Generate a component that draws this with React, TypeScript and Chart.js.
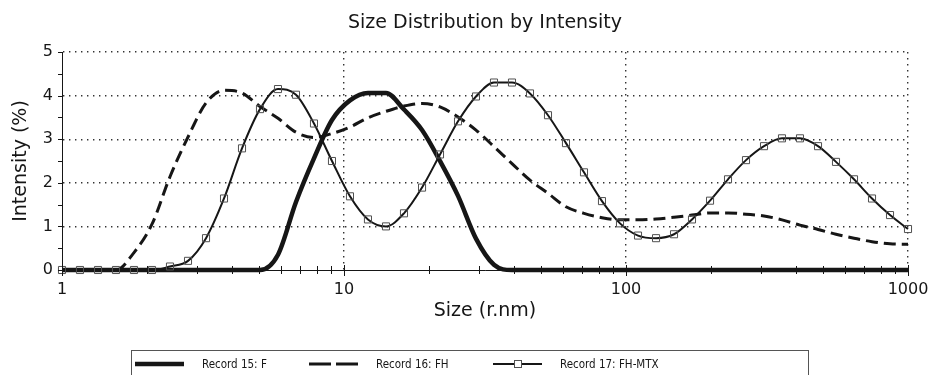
import React, { useEffect, useRef } from "react";
import { Chart, registerables } from "chart.js";

Chart.register(...registerables);

// Size bins (r.nm)
const sizeNm = [
  1.0, 1.158, 1.342, 1.554, 1.8, 2.085, 2.415, 2.798, 3.241, 3.754, 4.348, 5.036,
  5.833, 6.757, 7.826, 9.065, 10.5, 12.16, 14.09, 16.32, 18.91, 21.9, 25.37, 29.38,
  34.03, 39.42, 45.66, 52.89, 61.26, 70.96, 82.19, 95.22, 110.3, 127.8, 148.0, 171.4,
  198.6, 230.0, 266.4, 308.6, 357.4, 414.0, 479.6, 555.5, 643.5, 745.4, 863.4, 1000,
];

// Intensity (%)
const record15 = [
  0, 0, 0, 0, 0, 0, 0, 0, 0, 0, 0, 0,
  0.35, 1.56, 2.56, 3.44, 3.89, 4.06, 4.06, 3.68, 3.21, 2.5, 1.7, 0.72,
  0.12, 0, 0, 0, 0, 0, 0, 0, 0, 0, 0, 0,
  0, 0, 0, 0, 0, 0, 0, 0, 0, 0, 0, 0,
];

const record16 = [
  0, 0, 0, 0, 0.4, 1.05, 2.14, 3.05, 3.83, 4.12, 4.06, 3.75,
  3.48, 3.16, 3.04, 3.13, 3.28, 3.49, 3.64, 3.76, 3.82, 3.74, 3.51, 3.21,
  2.83, 2.44, 2.06, 1.76, 1.45, 1.3, 1.2, 1.15, 1.15, 1.17, 1.21, 1.26,
  1.31, 1.31, 1.28, 1.24, 1.15, 1.03, 0.93, 0.82, 0.73, 0.65, 0.6, 0.59,
];

const record17 = [
  0, 0, 0, 0, 0, 0, 0.08, 0.21, 0.73, 1.64, 2.79, 3.69,
  4.15, 4.02, 3.36, 2.5, 1.69, 1.16, 1.0, 1.3, 1.89, 2.65, 3.41, 3.98,
  4.3, 4.3, 4.05, 3.55, 2.91, 2.24, 1.58, 1.07, 0.79, 0.73, 0.82, 1.16,
  1.59, 2.08, 2.52, 2.84, 3.02, 3.02, 2.84, 2.48, 2.08, 1.64, 1.26, 0.94,
];

const seriesLabels = ["Record 15: F", "Record 16: FH", "Record 17: FH-MTX"];

const xTickValues = [
  1, 2, 3, 4, 5, 6, 7, 8, 9,
  10, 20, 30, 40, 50, 60, 70, 80, 90,
  100, 200, 300, 400, 500, 600, 700, 800, 900, 1000,
];
const xLabelValues = [1, 10, 100, 1000];
const yTickValues = [0, 0.5, 1, 1.5, 2, 2.5, 3, 3.5, 4, 4.5, 5];
const yLabelValues = [0, 1, 2, 3, 4, 5];

const INK = "#161616";
const AXIS_FONT = "'DejaVu Sans', sans-serif";

const tickMarksPlugin = {
  id: "tickMarks",
  afterDraw(chart: any) {
    const { ctx, chartArea } = chart;
    const x = chart.scales.x;
    const y = chart.scales.y;
    ctx.save();
    ctx.strokeStyle = INK;
    ctx.lineWidth = 1;
    ctx.beginPath();
    for (const v of xTickValues) {
      const px = Math.round(x.getPixelForValue(v)) + 0.5;
      const major = xLabelValues.includes(v);
      ctx.moveTo(px, chartArea.bottom - (major ? 5 : 4));
      ctx.lineTo(px, chartArea.bottom + (major ? 6 : 4));
    }
    for (const v of yTickValues) {
      const py = Math.round(y.getPixelForValue(v)) + 0.5;
      ctx.moveTo(chartArea.left - 4, py);
      ctx.lineTo(chartArea.left + 1, py);
    }
    ctx.stroke();
    ctx.restore();
  },
};

const legendSlots = [135, 309, 493];

const boxLegendPlugin = {
  id: "boxLegend",
  afterDraw(chart: any) {
    const { ctx } = chart;
    ctx.save();
    ctx.strokeStyle = "#555";
    ctx.lineWidth = 1;
    ctx.strokeRect(131.5, 350.5, 677, 40);
    const yy = 364;
    chart.data.datasets.forEach((ds: any, i: number) => {
      const sx = legendSlots[i];
      ctx.strokeStyle = ds.borderColor;
      ctx.lineWidth = ds.borderWidth;
      ctx.setLineDash(ds.borderDash && ds.borderDash.length ? [22, 5] : []);
      ctx.beginPath();
      ctx.moveTo(sx, yy);
      ctx.lineTo(sx + 49, yy);
      ctx.stroke();
      ctx.setLineDash([]);
      if (ds.pointRadius > 0) {
        ctx.strokeStyle = ds.pointBorderColor;
        ctx.lineWidth = 1;
        ctx.fillStyle = "#fff";
        ctx.fillRect(sx + 21.5, yy - 3.5, 7, 7);
        ctx.strokeRect(sx + 21.5, yy - 3.5, 7, 7);
      }
      ctx.fillStyle = INK;
      ctx.font = "11.5px 'Liberation Sans Narrow', 'DejaVu Sans Condensed', sans-serif";
      ctx.textBaseline = "middle";
      ctx.textAlign = "left";
      ctx.fillText(ds.label, sx + 67, yy + 1);
    });
    ctx.restore();
  },
};

export default function App() {
  const canvasRef = useRef<HTMLCanvasElement | null>(null);

  useEffect(() => {
    const canvas = canvasRef.current;
    if (!canvas) return;
    const toPoints = (vals: number[]) => sizeNm.map((s, i) => ({ x: s, y: vals[i] }));

    const chart = new Chart(canvas, {
      type: "line",
      data: {
        datasets: [
          {
            label: seriesLabels[0],
            data: toPoints(record15),
            borderColor: INK,
            borderWidth: 4.5,
            pointRadius: 0,
            cubicInterpolationMode: "monotone",
            fill: false,
            clip: false,
            order: 2,
          },
          {
            label: seriesLabels[1],
            data: toPoints(record16),
            borderColor: INK,
            borderWidth: 3,
            borderDash: [12, 6],
            pointRadius: 0,
            cubicInterpolationMode: "monotone",
            fill: false,
            clip: false,
            order: 1,
          },
          {
            label: seriesLabels[2],
            data: toPoints(record17),
            borderColor: INK,
            borderWidth: 2,
            pointRadius: 5,
            pointStyle: "rect",
            pointBorderColor: "#505050",
            pointBackgroundColor: "rgba(0,0,0,0)",
            pointBorderWidth: 1,
            cubicInterpolationMode: "monotone",
            fill: false,
            clip: false,
            order: 0,
          },
        ],
      },
      options: {
        animation: false,
        responsive: false,
        devicePixelRatio: 1,
        layout: { padding: { left: 0, right: 22, top: 0, bottom: 0 } },
        plugins: {
          legend: { display: false },
          tooltip: { enabled: false },
          title: {
            display: true,
            text: "Size Distribution by Intensity",
            color: INK,
            fullSize: false,
            font: { family: AXIS_FONT, size: 19, weight: "normal", lineHeight: 1.2 },
            padding: { top: 12, bottom: 17.2 },
          },
        },
        scales: {
          x: {
            type: "logarithmic",
            min: 1,
            max: 1000,
            afterBuildTicks: (scale: any) => {
              scale.ticks = xTickValues.map((v) => ({ value: v }));
            },
            afterFit: (scale: any) => {
              scale.height = 105;
              scale.paddingLeft = 0;
              scale.paddingRight = 0;
            },
            ticks: {
              autoSkip: false,
              maxRotation: 0,
              minRotation: 0,
              padding: 10,
              color: INK,
              font: { family: AXIS_FONT, size: 16 },
              callback: (value: any) => (xLabelValues.includes(Number(value)) ? String(value) : ""),
            },
            grid: {
              drawTicks: false,
              lineWidth: 1.4,
              color: (c: any) =>
                c.tick && xLabelValues.includes(c.tick.value) && c.tick.value !== 1 ? "#333" : "rgba(0,0,0,0)",
            },
            border: { display: true, color: INK, width: 1, dash: [1.4, 4.6] },
            title: {
              display: true,
              text: "Size (r.nm)",
              color: INK,
              font: { family: AXIS_FONT, size: 19, lineHeight: 1.2 },
              padding: { top: 0, bottom: 53 },
            },
          },
          y: {
            type: "linear",
            min: 0,
            max: 5,
            afterBuildTicks: (scale: any) => {
              scale.ticks = yTickValues.map((v) => ({ value: v }));
            },
            afterFit: (scale: any) => {
              scale.width = 62;
            },
            ticks: {
              autoSkip: false,
              padding: 9,
              color: INK,
              font: { family: AXIS_FONT, size: 16 },
              callback: (value: any) => (yLabelValues.includes(Number(value)) ? String(value) : ""),
            },
            grid: {
              drawTicks: false,
              lineWidth: 1.4,
              color: (c: any) =>
                c.tick && yLabelValues.includes(c.tick.value) && c.tick.value !== 0 ? "#333" : "rgba(0,0,0,0)",
            },
            border: { display: true, color: INK, width: 1, dash: [1.4, 4.6] },
            title: {
              display: true,
              text: "Intensity (%)",
              color: INK,
              font: { family: AXIS_FONT, size: 19, lineHeight: 1.2 },
              padding: { top: 10, bottom: 0 },
            },
          },
        },
      },
      plugins: [tickMarksPlugin, boxLegendPlugin],
    } as any);

    return () => {
      chart.destroy();
    };
  }, []);

  return (
    <div style={{ position: "fixed", left: 0, top: 0, width: 930, height: 375, background: "#fff" }}>
      <canvas ref={canvasRef} width={930} height={375} style={{ display: "block" }} />
    </div>
  );
}
